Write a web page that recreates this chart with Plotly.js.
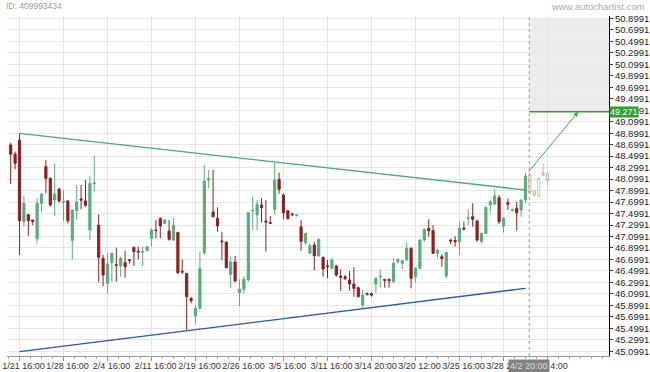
<!DOCTYPE html>
<html>
<head>
<meta charset="utf-8">
<script src="https://cdn.plot.ly/plotly-3.0.1.min.js"></script>
<style>html,body{margin:0;padding:0;background:#fff;}#chart{width:650px;height:372px;}</style>
</head>
<body>
<div id="chart"></div>
<script>
// ---- data ----
const open = [
48.693,48.536,48.780,47.358,47.479,47.387,47.061,47.677,48.316,48.112,
47.735,47.927,47.694,47.718,47.026,47.549,47.752,47.718,47.212,48.020,
47.294,46.719,46.283,46.643,46.608,46.585,46.643,46.696,46.910,46.841,
46.823,46.852,47.067,47.212,47.416,47.329,47.195,47.038,47.172,46.492,
46.457,46.022,45.714,45.848,46.817,48.083,47.526,47.416,47.021,47.003,
46.440,46.655,46.121,46.179,46.341,47.543,47.474,47.648,47.369,47.340,
47.572,48.095,47.822,47.549,47.491,47.462,47.270,46.992,46.806,46.951,
46.759,46.736,46.591,46.545,46.585,46.411,46.399,46.341,46.272,46.208,
45.906,46.109,46.103,46.272,46.394,46.353,46.353,46.312,46.661,46.632,
46.690,46.893,46.399,46.545,47.038,47.241,47.201,46.806,46.748,46.411,
47.038,47.032,47.009,47.247,47.410,47.445,47.369,47.009,47.154,47.648,
47.665,47.776,47.282,47.689,47.555,47.590,47.561,47.735];
const close = [
48.531,48.374,47.375,47.677,47.375,47.363,47.677,47.840,48.112,47.648,
47.840,47.718,47.706,47.375,47.561,47.700,47.735,47.642,48.025,48.031,
46.736,46.428,46.620,46.806,46.597,46.719,46.574,46.684,46.835,46.829,
46.835,46.922,47.212,47.201,47.282,47.387,47.050,47.300,46.469,46.481,
46.051,45.981,45.848,46.545,48.066,48.112,47.445,47.282,47.009,46.556,
46.655,46.324,46.184,46.353,47.514,47.549,47.660,47.601,47.352,47.329,
48.083,47.921,47.514,47.410,47.479,47.474,47.015,47.154,46.939,46.765,
47.050,46.533,46.579,46.690,46.428,46.388,46.365,46.272,46.196,46.051,
46.080,46.092,46.080,46.370,46.405,46.335,46.330,46.632,46.701,46.678,
46.893,46.370,46.545,47.038,47.224,47.201,46.806,46.864,46.713,46.823,
47.021,47.009,47.241,47.230,47.421,47.398,47.038,47.154,47.607,47.706,
47.805,47.358,47.416,47.660,47.567,47.514,47.735,48.153];
const high = [
48.734,48.577,48.896,47.805,47.491,47.387,47.764,47.851,48.432,48.130,
48.374,47.938,47.909,47.735,47.572,47.996,47.996,48.083,48.153,48.501,
47.485,46.777,46.806,46.817,46.905,46.748,46.852,46.701,46.922,46.922,
46.922,46.934,47.241,47.387,47.427,47.398,47.387,47.416,47.172,46.701,
46.457,46.039,45.906,46.835,48.345,48.258,48.258,47.607,47.183,47.009,
46.748,46.759,46.353,46.399,47.532,47.793,47.735,47.764,47.735,47.456,
48.385,48.211,47.851,47.549,47.514,47.485,47.387,47.154,46.968,47.009,
47.067,46.748,46.690,46.719,46.603,46.527,46.428,46.498,46.562,46.225,
46.167,46.121,46.126,46.388,46.527,46.359,46.370,46.719,46.719,46.690,
46.992,46.910,46.562,47.050,47.241,47.398,47.299,46.876,46.794,46.835,
47.061,47.108,47.358,47.358,47.572,47.677,47.387,47.166,47.619,47.735,
47.921,47.822,47.433,47.764,47.584,47.706,47.747,48.200];
const low = [
48.014,48.269,46.777,47.270,47.108,47.294,46.963,47.514,47.851,47.619,
47.456,47.689,47.369,47.329,46.701,47.387,47.572,47.619,47.038,47.880,
46.301,46.237,46.109,46.312,46.312,46.399,46.382,46.632,46.585,46.701,
46.585,46.841,46.922,47.067,47.067,47.317,47.026,47.026,46.446,46.446,
45.459,45.935,45.586,45.830,46.777,47.938,47.433,47.183,46.690,46.544,
46.196,46.301,45.888,46.109,46.312,47.212,47.212,47.340,46.835,47.317,
47.474,47.840,47.398,47.398,47.456,47.450,46.852,46.951,46.794,46.515,
46.748,46.399,46.370,46.527,46.399,46.155,46.341,46.155,46.051,46.039,
45.848,46.068,46.051,46.109,46.208,46.208,46.208,46.295,46.632,46.533,
46.678,46.196,46.295,46.527,47.009,47.096,46.794,46.719,46.574,46.370,
46.969,46.922,46.777,47.201,47.299,47.270,47.009,46.980,47.143,47.514,
47.648,47.317,47.166,47.561,47.532,47.201,47.445,47.677];

// candles after the pattern end (faded, hollow)
const postOpen  = [48.170,47.898,47.805,48.211,48.188];
const postClose = [47.863,47.822,48.112,48.170,48.072];
const postHigh  = [48.200,47.909,48.130,48.374,48.229];
const postLow   = [47.840,47.805,47.793,48.153,47.985];

// pattern lines (candle index, price)
const resistX = [2, 117];
const resistY = [48.897, 47.909];
const supportX = [2, 117];
const supportY = [45.092, 46.197];
const patternEnd = 117.85;
const targetPrice = 49.271;
const arrowFrom = [117.4, 48.200];
const arrowTo = [129, 49.271];
const zoneTop = 50.905;

// tick labels
const tickIdx = [2,12,22,32,42,52,62,72,82,92,102,112,122];
const tickLabels = ['1/21 16:00','1/28 16:00','2/4 16:00','2/11 16:00','2/19 16:00','2/26 16:00',
  '3/5 16:00','3/11 16:00','3/14 20:00','3/20 12:00','3/25 16:00','3/28 20:00','4/1 4:00'];
const yTickLabels = ['45.0991','45.2991','45.4991','45.6991','45.8991','46.0991','46.2991','46.4991',
  '46.6991','46.8991','47.0991','47.2991','47.4991','47.6991','47.8991','48.0991','48.2991','48.4991',
  '48.6991','48.8991','49.0991','49.2991','49.4991','49.6991','49.8991','50.0991','50.2991','50.4991',
  '50.6991','50.8991'];
const endLabel = '4/2 20:00';

// ---- chart ----
const candleX = open.map((_, i) => i);
const postX = postOpen.map((_, i) => open.length + i);
const RED = '#8e1f1f', GREEN = '#5aab7e';
const FONT = 'Liberation Sans, Arial, sans-serif';

const traces = [
  {type:'candlestick', x:candleX, open:open, high:high, low:low, close:close,
   increasing:{line:{color:GREEN, width:1}, fillcolor:GREEN},
   decreasing:{line:{color:RED, width:1}, fillcolor:RED},
   whiskerwidth:0, hoverinfo:'skip', showlegend:false},
  {type:'candlestick', x:postX, open:postOpen, high:postHigh, low:postLow, close:postClose,
   increasing:{line:{color:'#a9d9bd', width:1}, fillcolor:'#ffffff'},
   decreasing:{line:{color:'#e2a7a7', width:1}, fillcolor:'#ffffff'},
   whiskerwidth:0, hoverinfo:'skip', showlegend:false},
  {type:'scatter', mode:'lines', x:resistX, y:resistY, line:{color:'#4ea776', width:1.3},
   hoverinfo:'skip', showlegend:false},
  {type:'scatter', mode:'lines', x:supportX, y:supportY, line:{color:'#2a57a8', width:1.3},
   hoverinfo:'skip', showlegend:false}
];

const xMax = 135.98;
const layout = {
  width:650, height:372,
  margin:{l:7, r:41, t:16, b:16},
  paper_bgcolor:'#ffffff', plot_bgcolor:'#ffffff',
  showlegend:false,
  font:{family:FONT, size:9, color:'#333'},
  xaxis:{
    type:'linear', range:[-0.841, xMax], rangeslider:{visible:false},
    tickmode:'array', tickvals:tickIdx, ticktext:tickLabels, tickangle:0,
    ticks:'outside', ticklen:4, tickcolor:'#999', ticklabelshift:4, ticklabelstandoff:-3,
    showline:true, linecolor:'#999', linewidth:1,
    showgrid:true, gridcolor:'#e4e4e4', gridwidth:1, zeroline:false,
    tickfont:{family:FONT, size:9, color:'#333'},
    minor:{dtick:2.5, tick0:2, ticks:'outside', ticklen:2, tickcolor:'#aaa', showgrid:false}
  },
  yaxis:{
    side:'right', range:[45.0172, 50.9406],
    tickmode:'array', tickvals:yTickLabels.map(Number), ticktext:yTickLabels,
    ticks:'outside', ticklen:3, tickcolor:'#333',
    showline:true, linecolor:'#000', linewidth:1,
    showgrid:true, gridcolor:'#e6e6e6', gridwidth:1, zeroline:false,
    tickfont:{family:FONT, size:9.5, color:'#222'}
  },
  shapes:[
    {type:'rect', xref:'x', yref:'y', x0:patternEnd, x1:xMax, y0:targetPrice, y1:zoneTop,
     fillcolor:'#ececec', line:{width:0}, layer:'below'},
    {type:'line', xref:'x', yref:'paper', x0:patternEnd, x1:patternEnd, y0:0, y1:1,
     line:{color:'#999', width:1, dash:'dot'}},
    {type:'line', xref:'x', yref:'y', x0:patternEnd, x1:xMax, y0:targetPrice, y1:targetPrice,
     line:{color:'#3b9b3b', width:1.5}}
  ],
  annotations:[
    {xref:'paper', yref:'paper', x:0, y:1, xanchor:'left', yanchor:'middle', xshift:-3, yshift:10,
     text:'ID: 409993434', showarrow:false, font:{family:FONT, size:8.5, color:'#999'}},
    {xref:'paper', yref:'paper', x:1, y:1, xanchor:'right', yanchor:'middle', xshift:37, yshift:10,
     text:'www.autochartist.com', showarrow:false, font:{family:FONT, size:9.5, color:'#aaa'}},
    {xref:'x', yref:'y', x:arrowTo[0], y:arrowTo[1], axref:'x', ayref:'y', ax:arrowFrom[0], ay:arrowFrom[1],
     text:'', showarrow:true, arrowhead:2, arrowsize:1, arrowwidth:1, arrowcolor:'#3fae3f'},
    {xref:'paper', yref:'y', x:1, y:targetPrice, xanchor:'left', yanchor:'middle', xshift:0,
     text:String(targetPrice), showarrow:false, bgcolor:'#2f9e2f', borderpad:0,
     font:{family:FONT, size:9, color:'#ffffff'}},
    {xref:'x', yref:'paper', x:patternEnd, y:0, xanchor:'center', yanchor:'top', yshift:-3,
     text:endLabel, showarrow:false, bgcolor:'#808080', borderpad:1,
     font:{family:FONT, size:9, color:'#dddddd'}}
  ]
};

Plotly.newPlot('chart', traces, layout, {displayModeBar:false, staticPlot:true});
</script>
</body>
</html>
